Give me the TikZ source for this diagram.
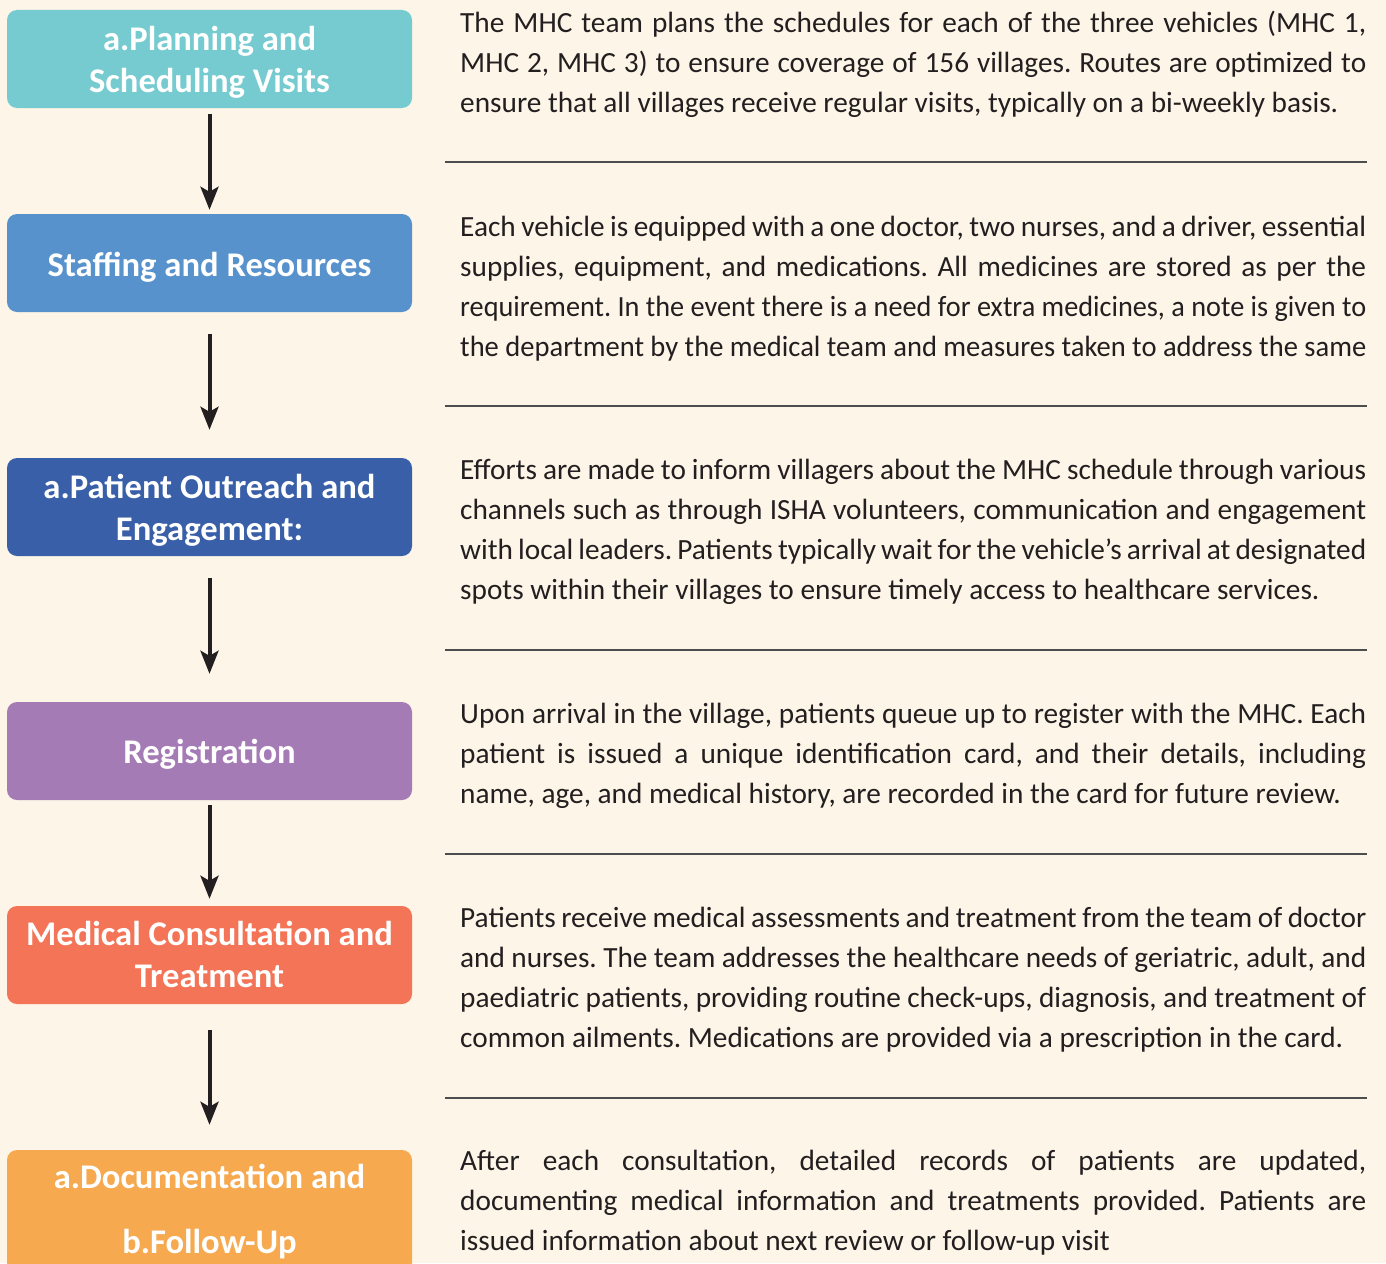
\documentclass[tikz,border=0pt]{standalone}
\usepackage{fontspec}
\usepackage{graphicx}
\setmainfont{Carlito}
\usetikzlibrary{arrows.meta}
\definecolor{bg}{HTML}{FDF5E7}
\definecolor{ink}{HTML}{231F20}
\definecolor{rule}{HTML}{4D4D4F}
\definecolor{cA}{HTML}{75CBCF}
\definecolor{cB}{HTML}{5792CC}
\definecolor{cC}{HTML}{385FA8}
\definecolor{cD}{HTML}{A57BB6}
\definecolor{cE}{HTML}{F37457}
\definecolor{cF}{HTML}{F6A94E}
\frenchspacing
\newcommand\fullline[1]{\hbox to 906pt{#1}}
\newcommand\lastline[1]{\hbox{#1}}
\newcommand\fitline[1]{\hbox{\resizebox{906pt}{\height}{\hbox{#1}}}}
\newcommand\bodypar[1]{\parbox[t]{906pt}{\frenchspacing #1}}
\newcommand\boxpar[2]{\parbox[t]{420pt}{\fontsize{34.6}{#1}\selectfont\bfseries\centering #2\par}}
\tikzset{
  stepbox/.style={rectangle, rounded corners=10pt, minimum width=405pt, minimum height=98pt, inner sep=0pt, draw=none},
  boxlabel/.style={anchor=base, inner sep=0pt, text=white},
  bodytext/.style={anchor=base west, inner sep=0pt, text=ink, font=\fontsize{29.3}{40}\selectfont},
  arr/.style={draw=ink, line width=4pt, -{Stealth[length=23pt,width=18pt,inset=5pt]}},
  sep/.style={draw=rule, line width=1.3pt}
}
\begin{document}
\begin{tikzpicture}[x=1pt,y=-1pt]
\useasboundingbox (0,0) rectangle (1386,1263);
\clip (0,0) rectangle (1386,1263);
\fill[bg] (0,0) rectangle (1386,1263);
% boxes
\node[stepbox, fill=cA] (b1) at (209.5,59) {};
\node[stepbox, fill=cB] (b2) at (209.5,263) {};
\node[stepbox, fill=cC] (b3) at (209.5,507) {};
\node[stepbox, fill=cD] (b4) at (209.5,751) {};
\node[stepbox, fill=cE] (b5) at (209.5,955) {};
\node[stepbox, fill=cF, minimum height=160pt] (b6) at (209.5,1230) {};
% box labels
\node[boxlabel] (l1) at (209.5,51) {\boxpar{42}{a.Planning and\\Scheduling Visits}};
\node[boxlabel] (l2) at (209.5,276) {\boxpar{42}{Staffing and Resources}};
\node[boxlabel] (l3) at (209.5,498) {\boxpar{42}{a.Patient Outreach and\\Engagement:}};
\node[boxlabel] (l4) at (209.5,763) {\boxpar{42}{Registration}};
\node[boxlabel] (l5) at (209.5,945) {\boxpar{42}{Medical Consultation and\\Treatment}};
\node[boxlabel] (l6) at (209.5,1188) {\boxpar{65}{a.Documentation and\\b.Follow-Up}};
% arrows
\draw[arr, shorten <=6pt, shorten >=4pt] (b1.south) -- (b2.north);
\draw[arr, shorten <=22pt, shorten >=28pt] (b2.south) -- (b3.north);
\draw[arr, shorten <=22pt, shorten >=28pt] (b3.south) -- (b4.north);
\draw[arr, shorten <=5pt, shorten >=7pt] (b4.south) -- (b5.north);
\draw[arr, shorten <=26pt, shorten >=25pt] (b5.south) -- (b6.north);
% separators
\coordinate (s1a) at (445,162); \coordinate (s1b) at (1367,162);
\coordinate (s2a) at (445,406); \coordinate (s2b) at (1367,406);
\coordinate (s3a) at (445,650); \coordinate (s3b) at (1367,650);
\coordinate (s4a) at (445,854); \coordinate (s4b) at (1367,854);
\coordinate (s5a) at (445,1098); \coordinate (s5b) at (1367,1098);
\draw[sep] (s1a) -- (s1b);
\draw[sep] (s2a) -- (s2b);
\draw[sep] (s3a) -- (s3b);
\draw[sep] (s4a) -- (s4b);
\draw[sep] (s5a) -- (s5b);
% body texts
\node[bodytext] (t1) at (460,33) {\bodypar{%
\fullline{The MHC team plans the schedules for each of the three vehicles (MHC 1,}
\fullline{MHC 2, MHC 3) to ensure coverage of 156 villages. Routes are optimized to}
\lastline{ensure that all villages receive regular visits, typically on a bi-weekly basis.}}};
\node[bodytext] (t2) at (460,236) {\bodypar{%
\fullline{Each vehicle is equipped with a one doctor, two nurses, and a driver, essential}
\fullline{supplies, equipment, and medications. All medicines are stored as per the}
\fitline{requirement. In the event there is a need for extra medicines, a note is given to}
\fitline{the department by the medical team and measures taken to address the same}}};
\node[bodytext] (t3) at (460,479) {\bodypar{%
\fullline{Efforts are made to inform villagers about the MHC schedule through various}
\fullline{channels such as through ISHA volunteers, communication and engagement}
\fullline{with local leaders. Patients typically wait for the vehicle’s arrival at designated}
\lastline{spots within their villages to ensure timely access to healthcare services.}}};
\node[bodytext] (t4) at (460,723) {\bodypar{%
\fullline{Upon arrival in the village, patients queue up to register with the MHC. Each}
\fullline{patient is issued a unique identification card, and their details, including}
\lastline{name, age, and medical history, are recorded in the card for future review.}}};
\node[bodytext] (t5) at (460,927) {\bodypar{%
\fullline{Patients receive medical assessments and treatment from the team of doctor}
\fullline{and nurses. The team addresses the healthcare needs of geriatric, adult, and}
\fullline{paediatric patients, providing routine check-ups, diagnosis, and treatment of}
\lastline{common ailments. Medications are provided via a prescription in the card.}}};
\node[bodytext] (t6) at (460,1170) {\bodypar{%
\fullline{After each consultation, detailed records of patients are updated,}
\fullline{documenting medical information and treatments provided. Patients are}
\lastline{issued information about next review or follow-up visit}}};
\end{tikzpicture}
\end{document}
